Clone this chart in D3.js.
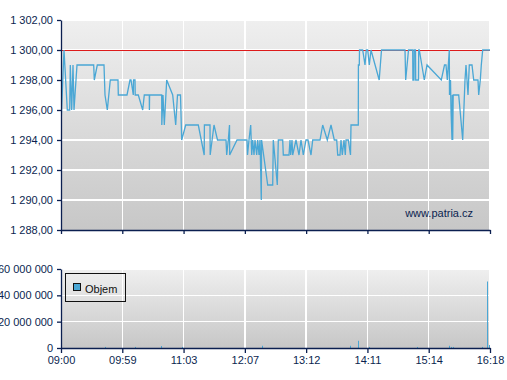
<!DOCTYPE html>
<html><head><meta charset="utf-8">
<script src="https://cdn.jsdelivr.net/npm/d3@7"></script>
<style>
html,body{margin:0;padding:0;background:#fff;}
svg{display:block;font-family:"Liberation Sans",Arial,sans-serif;}
</style></head>
<body>
<svg id="c" width="507" height="380"></svg>
<script>
// x axis is a sequence position (0..429); labels are the times at evenly spaced ticks
const timeLabels = ["09:00","09:59","11:03","12:07","13:12","14:11","15:14","16:18"];
const priceTicks = [1288,1290,1292,1294,1296,1298,1300,1302];
const volumeTicks = [0,20000000,40000000,60000000];
const referencePrice = 1300;
const watermark = "www.patria.cz";
const legendLabel = "Objem";

// [sequence position, price]
const pricePoints = [
[0,1295],[3,1300],[6.3,1296],[8.7,1296],[9.3,1299],[10.7,1296],[12,1299],[13,1296],[16,1299],
[32.7,1299],[33.3,1298],[36.3,1299],[43,1299],[44,1297],[46.3,1296],[49.3,1298],[57,1298],[57.3,1297],
[66,1297],[69,1298],[70,1298],[72.3,1297],[72.5,1298],[74,1298],[74.2,1297],[77.3,1297],[81.7,1296],
[83.3,1297],[88.3,1297],[88.4,1296],[88.6,1297],[100.7,1297],[100.8,1295],[102,1297],[103.3,1295],
[105.7,1298],[111.7,1297],[114.7,1295],[116.5,1297],[119.5,1297],[120.7,1294],[124.7,1295],[137.3,1295],
[143.2,1293],[143.4,1295],[149,1295],[149.2,1293],[153,1295],[156.5,1294],[165,1294],[165.7,1293],
[167.3,1294],[168.5,1295],[168.7,1293],[176,1294],[186,1294],[186.5,1293],[188,1294],[189.7,1295],
[190.7,1293],[191.7,1294],[193,1293],[194,1294],[195.7,1293],[196.7,1294],[198,1293],[199,1294],
[200.3,1290],[200.6,1294],[206.7,1291],[211.7,1291],[212.3,1294],[216.3,1291],[217.3,1294],[221.7,1294],
[222.3,1293],[228,1293],[229,1294],[229.7,1293],[231,1294],[231.7,1293],[235,1294],[238,1293],[240,1294],
[242.3,1293],[245,1294],[247,1294],[250,1293],[251.7,1294],[259,1294],[261.7,1295],[266.3,1294],
[270,1295],[273.3,1294],[275.7,1294],[276.7,1293],[279,1293],[280,1294],[281.3,1293],[283,1294],
[284.3,1293],[285,1294],[287.3,1294],[289.5,1293],[290,1295],[297.3,1295],[297.4,1299],[298.3,1299],
[298.5,1300],[301.7,1300],[304,1299],[305.3,1300],[306.7,1300],[308.3,1299],[310,1300],[318.2,1298],
[320.5,1300],[344,1300],[344.7,1298],[347.5,1300],[351.7,1300],[351.9,1298],[353,1298],[353.2,1300],
[354.5,1300],[354.7,1298],[357.5,1298],[357.7,1300],[358.3,1300],[363.3,1298],[366,1299],[380.3,1298],
[383.5,1299],[385,1299],[386.3,1298],[388.3,1300],[388.5,1297],[389.5,1298],[390,1296],[391,1294],
[391.3,1297],[391.7,1294],[392.2,1297],[397.7,1297],[401.7,1294],[404,1298],[405,1299],[407,1297],
[408.3,1299],[411,1299],[412.7,1298],[417,1298],[417.7,1297],[419.3,1298],[420.3,1299],[421.7,1300],
[429,1300]
];

// [sequence position, volume]
const volumePoints = [
[44.3,800000],[74.3,800000],[100.3,1500000],[120.7,800000],[200.7,1700000],[289.3,1700000],
[297.3,5500000],[308.3,800000],[356.3,800000],[388.3,1700000],[390,800000],[392,800000],
[421.3,800000],[426.3,50500000],[428.3,2300000]
];

const navy = "#0b1f50";
const lineBlue = "#4aa7d5";
const svg = d3.select("#c");

const locale = d3.formatLocale({decimal:",", thousands:" ", grouping:[3], currency:["",""]});
const fPrice = locale.format(",.2f");
const fVol = locale.format(",.0f");

const L = 61, R = 490;
const x = d3.scaleLinear().domain([0,429]).range([L,R]);
const xTickVals = timeLabels.map((d,i)=> i*429/(timeLabels.length-1));

const yP = d3.scaleLinear().domain([1288,1302]).range([230,20]);
const yV = d3.scaleLinear().domain([0,60000000]).range([348,269]);

const defs = svg.append("defs");
const grad = defs.append("linearGradient").attr("id","bg").attr("x1",0).attr("y1",0).attr("x2",0).attr("y2",1);
grad.append("stop").attr("offset","0%").attr("stop-color","#efefef");
grad.append("stop").attr("offset","100%").attr("stop-color","#c7c7c7");
defs.append("clipPath").attr("id","clipP").append("rect").attr("x",L).attr("y",yP(1302)-1).attr("width",R-L).attr("height",yP(1288)-yP(1302)+1);

function panel(yScale, ticks){
  const [y1,y0] = yScale.range();
  svg.append("rect").attr("x",L).attr("y",y0).attr("width",R-L).attr("height",y1-y0).attr("fill","url(#bg)");
  const g = svg.append("g").attr("shape-rendering","crispEdges");
  g.selectAll("line.h").data(ticks.slice(1)).join("line")
    .attr("x1",L).attr("x2",R).attr("y1",d=>yScale(d)).attr("y2",d=>yScale(d))
    .attr("stroke","#fff").attr("stroke-width",1.5);
  g.selectAll("line.v").data(xTickVals.slice(1)).join("line")
    .attr("x1",d=>x(d)).attr("x2",d=>x(d)).attr("y1",y0).attr("y2",y1)
    .attr("stroke","#fff").attr("stroke-width",1.5);
}

// price panel
panel(yP, priceTicks);
svg.append("line").attr("x1",L).attr("x2",R).attr("y1",yP(referencePrice)).attr("y2",yP(referencePrice))
  .attr("stroke","#dd1a1a").attr("stroke-width",1).attr("shape-rendering","crispEdges");
svg.append("path").datum(pricePoints)
  .attr("clip-path","url(#clipP)")
  .attr("d", d3.line().x(d=>x(d[0])).y(d=>yP(d[1])))
  .attr("fill","none").attr("stroke",lineBlue).attr("stroke-width",1.3).attr("stroke-linejoin","miter");

svg.append("text").attr("x",473).attr("y",217).attr("text-anchor","end")
  .attr("font-size",11).attr("fill",navy).text(watermark);

function styleAxis(g){
  g.selectAll(".domain").attr("stroke",navy).attr("stroke-width",1.3);
  g.selectAll(".tick line").attr("stroke",navy).attr("stroke-width",1.3);
  g.selectAll(".tick text").attr("fill",navy).attr("font-size",11).attr("font-family","Liberation Sans, Arial, sans-serif");
}
const ayP = svg.append("g").attr("transform",`translate(${L},0)`)
  .call(d3.axisLeft(yP).tickValues(priceTicks).tickFormat(fPrice).tickSize(4).tickSizeOuter(0).tickPadding(4));
styleAxis(ayP);
const axP = svg.append("g").attr("transform",`translate(0,${yP(1288)})`)
  .call(d3.axisBottom(x).tickValues(xTickVals).tickFormat("").tickSize(4).tickSizeOuter(0));
styleAxis(axP);

// volume panel
panel(yV, volumeTicks);
svg.append("g").selectAll("rect").data(volumePoints).join("rect")
  .attr("x",d=>Math.round(x(d[0]))).attr("width",1)
  .attr("y",d=>yV(d[1])).attr("height",d=>yV(0)-yV(d[1]))
  .attr("fill",lineBlue);

const ayV = svg.append("g").attr("transform",`translate(${L},0)`)
  .call(d3.axisLeft(yV).tickValues(volumeTicks).tickFormat(fVol).tickSize(4).tickSizeOuter(0).tickPadding(4));
styleAxis(ayV);
const axV = svg.append("g").attr("transform",`translate(0,${yV(0)})`)
  .call(d3.axisBottom(x).tickValues(xTickVals).tickFormat((d,i)=>timeLabels[i]).tickSize(5).tickSizeOuter(0).tickPadding(3));
styleAxis(axV);

// legend
const lg = svg.append("g");
lg.append("rect").attr("x",65.5).attr("y",273.5).attr("width",60).attr("height",28)
  .attr("fill","none").attr("stroke","#111").attr("stroke-width",1);
lg.append("rect").attr("x",73.5).attr("y",283.5).attr("width",7).attr("height",7)
  .attr("fill",lineBlue).attr("stroke","#111").attr("stroke-width",1);
lg.append("text").attr("x",85).attr("y",292.5).attr("font-size",11).attr("fill","#111").text(legendLabel);
</script>
</body></html>
